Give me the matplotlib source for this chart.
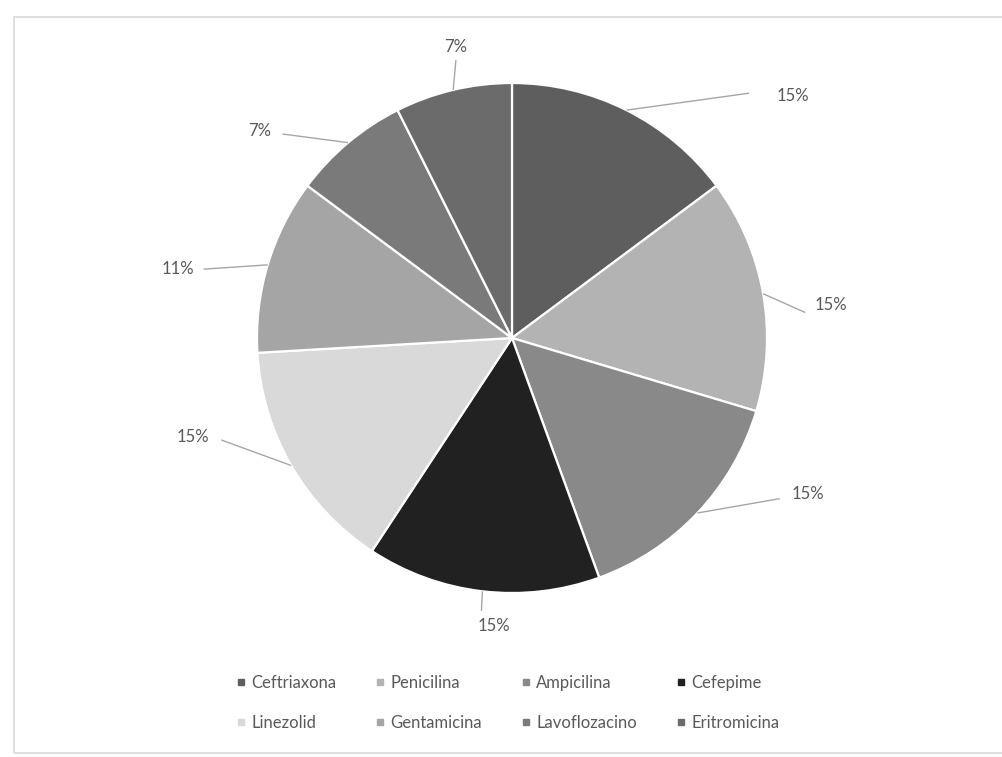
import matplotlib
matplotlib.use("Agg")
import matplotlib.pyplot as plt
import numpy as np
from matplotlib.patches import Rectangle

categories = ["Ceftriaxona", "Penicilina", "Ampicilina", "Cefepime",
              "Linezolid", "Gentamicina", "Lavoflozacino", "Eritromicina"]
counts = [4, 4, 4, 4, 4, 3, 2, 2]
colors = ["#5e5e5e", "#b3b3b3", "#898989", "#212121",
          "#d9d9d9", "#a5a5a5", "#7a7a7a", "#6b6b6b"]

# label text positions (in pie-radius units): layout only
label_pos = [(1.10, 0.95), (1.25, 0.13), (1.16, -0.61), (-0.07, -1.13),
             (-1.25, -0.39), (-1.31, 0.27), (-0.99, 0.81), (-0.22, 1.14)]
line_end = [(0.93, 0.96), (1.15, 0.10), (1.05, -0.63), (-0.12, -1.07),
            (-1.14, -0.40), (-1.21, 0.27), (-0.90, 0.80), (-0.22, 1.09)]

W, H = 1002, 757
cx, cy, R = 512, 338, 255

fig = plt.figure(figsize=(W / 100, H / 100), dpi=100)
fig.patch.set_facecolor("white")
fig.patches.append(Rectangle((14 / W, 1 - 753 / H), 1.2, (753 - 17) / H,
                             transform=fig.transFigure, fill=False,
                             edgecolor="#d9d9d9", linewidth=1.2))

ax = fig.add_axes([0, 0, 1, 1])
wedges, _ = ax.pie(counts, colors=colors, startangle=90, counterclock=False,
                   radius=1.0, wedgeprops=dict(edgecolor="white", linewidth=1.6))
ax.set_xlim(-cx / R, (W - cx) / R)
ax.set_ylim(-(H - cy) / R, cy / R)
ax.set_aspect("equal")
ax.axis("off")

total = sum(counts)
for w, c, lp, le in zip(wedges, counts, label_pos, line_end):
    ang = np.deg2rad((w.theta1 + w.theta2) / 2)
    x0, y0 = np.cos(ang), np.sin(ang)
    ax.plot([x0, le[0]], [y0, le[1]], color="#a6a6a6", lw=1.0, solid_capstyle="butt")
    ax.text(lp[0], lp[1], f"{round(100 * c / total)}%", ha="center", va="center",
            fontsize=12, color="#595959", family="Lato")

handles = [plt.Line2D([], [], marker="s", linestyle="", markersize=5,
                      markerfacecolor=col, markeredgecolor=col) for col in colors]
order = [0, 4, 1, 5, 2, 6, 3, 7]
leg = fig.legend([handles[i] for i in order], [categories[i] for i in order],
                 ncol=4, loc="center",
                 bbox_to_anchor=(508 / W, 1 - 703 / H), frameon=False,
                 prop=dict(family="Lato", size=12), labelcolor="#595959",
                 handlelength=0.45, handletextpad=0.4, columnspacing=2.4,
                 labelspacing=1.45)

fig.savefig("out.png", dpi=100, facecolor="white")
